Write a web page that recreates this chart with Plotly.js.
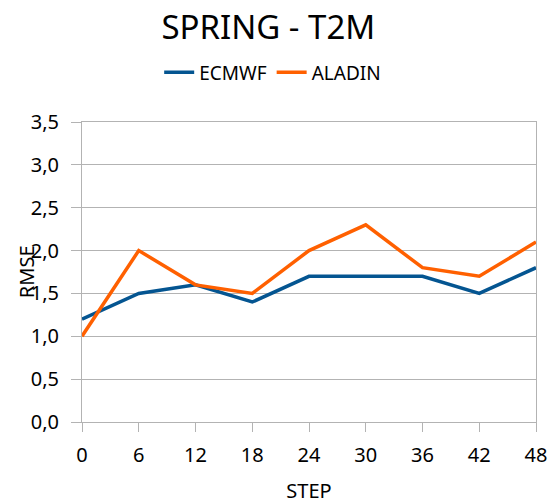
<!DOCTYPE html>
<html><head><meta charset="utf-8">
<script src="https://cdn.plot.ly/plotly-3.0.1.min.js"></script>
<style>body{margin:0;padding:0;background:#fff}#c{width:559px;height:504px}</style>
</head><body><div id="c"></div>
<script>
const steps = [0, 6, 12, 18, 24, 30, 36, 42, 48];
const ecmwf = [1.2, 1.5, 1.6, 1.4, 1.7, 1.7, 1.7, 1.5, 1.8];
const aladin = [1.0, 2.0, 1.6, 1.5, 2.0, 2.3, 1.8, 1.7, 2.1];
const seriesNames = ["ECMWF", "ALADIN"];
const colors = ["#045591", "#ff6000"];

const font = "Noto Sans, sans-serif";
const data = [
  {x: steps, y: ecmwf, name: seriesNames[0], type: "scatter", mode: "lines",
   line: {color: colors[0], width: 3.5}},
  {x: steps, y: aladin, name: seriesNames[1], type: "scatter", mode: "lines",
   line: {color: colors[1], width: 3.5}}
];
const layout = {
  width: 559, height: 504,
  margin: {l: 82, r: 23, t: 122, b: 82, autoexpand: false},
  paper_bgcolor: "#fff", plot_bgcolor: "#fff",
  separators: ",.",
  font: {family: font, color: "#000", size: 20},
  title: {text: "SPRING - T2M", x: 0.48, xanchor: "center", y: 0.945, yanchor: "middle",
          font: {family: font, size: 33, color: "#000"}},
  showlegend: true,
  legend: {orientation: "h", x: 0.42, xanchor: "center",
           y: 1.165, yanchor: "middle",
           font: {family: font, size: 19, color: "#000"}, itemwidth: 30, tracegroupgap: 0},
  xaxis: {
    range: [0, 48], tickvals: steps, ticktext: steps.map(String),
    showgrid: false, zeroline: false, automargin: false,
    showline: true, linecolor: "#b3b3b3", linewidth: 1, mirror: true,
    ticks: "outside", ticklen: 9, tickcolor: "#b3b3b3", ticklabelstandoff: 6,
    tickfont: {family: font, size: 20, color: "#000"},
    title: {text: "STEP", font: {family: font, size: 20, color: "#000"}, standoff: 20}
  },
  yaxis: {
    range: [0, 3.5], dtick: 0.5, tick0: 0, tickformat: ".1f", automargin: false,
    showgrid: true, gridcolor: "#b3b3b3", gridwidth: 1, zeroline: false,
    showline: true, linecolor: "#b3b3b3", linewidth: 1, mirror: true,
    ticks: "outside", ticklen: 10, tickcolor: "#b3b3b3", ticklabelstandoff: 8,
    tickfont: {family: font, size: 20, color: "#000"}
  },
  annotations: [{
    text: "RMSE", xref: "paper", yref: "paper", x: -0.123, y: 0.5,
    xanchor: "center", yanchor: "middle", textangle: -90, showarrow: false,
    font: {family: font, size: 20, color: "#000"}
  }]
};
Plotly.newPlot("c", data, layout, {displayModeBar: false, staticPlot: true});
</script></body></html>
